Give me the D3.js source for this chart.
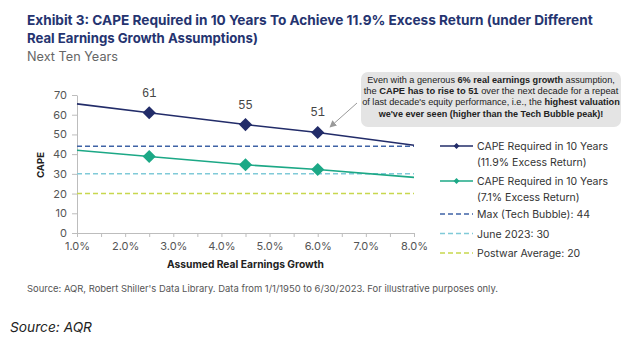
<!DOCTYPE html>
<html>
<head>
<meta charset="utf-8">
<script src="https://cdn.jsdelivr.net/npm/d3@7"></script>
<style>
  html, body { margin: 0; padding: 0; background: #fff; }
  svg { display: block; font-family: Inter, "Noto Sans", sans-serif; }
</style>
</head>
<body>
<svg id="chart" width="626" height="343"></svg>
<script>
// real earnings growth (%) and required CAPE
const growth = [1.0, 2.5, 4.5, 6.0, 8.0];
const capeHigh = [65.5, 61, 55, 51, 44.5];   // 11.9% excess return
const capeLow = [42, 38.8, 34.6, 32.2, 28.2]; // 7.1% excess return
const markerIdx = [1, 2, 3];
const highLabels = ["61", "55", "51"];

const refLevels = [
  { name: "Max (Tech Bubble): 44", value: 44, color: "#3f63a6" },
  { name: "June 2023: 30", value: 30, color: "#80cad8" },
  { name: "Postwar Average: 20", value: 20, color: "#c8d74e" }
];
const xTicks = [1, 2, 3, 4, 5, 6, 7, 8];
const yTicks = [0, 10, 20, 30, 40, 50, 60, 70];

const navy = "#222c69", green = "#1ca886";

const svg = d3.select("#chart");

// scale font-size so a text element spans the given width
function fit(sel, w) {
  const node = sel.node();
  const cur = node.getComputedTextLength();
  const fs = parseFloat(sel.attr("font-size"));
  sel.attr("font-size", (fs * w / cur).toFixed(2));
  return sel;
}

// titles
fit(svg.append("text").attr("x", 27).attr("y", 25).attr("font-size", 13)
  .attr("font-weight", 700).attr("fill", "#253470")
  .text("Exhibit 3: CAPE Required in 10 Years To Achieve 11.9% Excess Return (under Different"), 566);
fit(svg.append("text").attr("x", 27).attr("y", 43).attr("font-size", 13)
  .attr("font-weight", 700).attr("fill", "#253470")
  .text("Real Earnings Growth Assumptions)"), 231);
fit(svg.append("text").attr("x", 27).attr("y", 61).attr("font-size", 13)
  .attr("fill", "#666").text("Next Ten Years"), 91);

const x = d3.scaleLinear().domain([1, 8]).range([77, 414]);
const y = d3.scaleLinear().domain([0, 70]).range([233, 95]);

// axes
const xAxis = svg.append("g").attr("transform", `translate(0,${y(0)})`)
  .call(d3.axisBottom(x).tickValues(d3.range(1, 8.01, 0.5)).tickSize(4)
    .tickFormat(d => Number.isInteger(d) ? d.toFixed(1) + "%" : ""));
xAxis.select(".domain").attr("stroke", "#bdbdbd");
xAxis.selectAll(".tick line").attr("stroke", "#bdbdbd");
xAxis.selectAll(".tick text").attr("font-size", 11).attr("fill", "#555")
  .attr("font-family", "Inter, sans-serif").attr("dy", "0.95em");

const yAxis = svg.append("g").attr("transform", `translate(${x(1)},0)`)
  .call(d3.axisLeft(y).tickValues(yTicks).tickSize(5).tickSizeOuter(0));
yAxis.select(".domain").attr("stroke", "#bdbdbd");
yAxis.selectAll(".tick line").attr("stroke", "#bdbdbd");
yAxis.selectAll(".tick text").attr("font-size", 11).attr("fill", "#555")
  .attr("font-family", "Inter, sans-serif").attr("x", -10);

fit(svg.append("text").attr("x", x(4.5)).attr("y", 268).attr("text-anchor", "middle")
  .attr("font-size", 10.5).attr("font-weight", 700).attr("fill", "#222")
  .text("Assumed Real Earnings Growth"), 157);
fit(svg.append("text").attr("transform", "translate(44,165) rotate(-90)")
  .attr("text-anchor", "middle").attr("font-size", 11).attr("font-weight", 700)
  .attr("fill", "#222").text("CAPE"), 26);

// reference levels
svg.append("g").selectAll("line").data(refLevels).join("line")
  .attr("x1", x(1)).attr("x2", x(8))
  .attr("y1", d => y(d.value)).attr("y2", d => y(d.value))
  .attr("stroke", d => d.color).attr("stroke-width", 1.5)
  .attr("stroke-dasharray", "5,3");

// CAPE lines
const line = d3.line().x(d => x(d[0])).y(d => y(d[1]));
const series = [
  { vals: capeLow, color: green },
  { vals: capeHigh, color: navy }
];
series.forEach(s => {
  const pts = growth.map((g, i) => [g, s.vals[i]]);
  svg.append("path").datum(pts).attr("d", line)
    .attr("fill", "none").attr("stroke", s.color).attr("stroke-width", 1.6);
  svg.append("g").selectAll("path").data(markerIdx.map(i => pts[i])).join("path")
    .attr("d", d3.symbol(d3.symbolDiamond2, 110))
    .attr("transform", d => `translate(${x(d[0])},${y(d[1])})`)
    .attr("fill", s.color);
});

// value labels on the 11.9% line
svg.append("g").selectAll("text").data(markerIdx).join("text")
  .attr("x", i => x(growth[i]))
  .attr("y", i => y(capeHigh[i]) - 16)
  .attr("text-anchor", "middle").attr("font-size", 12)
  .attr("font-family", "'Liberation Mono', monospace").attr("fill", "#444")
  .text((i, k) => highLabels[k]);

// callout
svg.append("rect").attr("x", 361).attr("y", 72).attr("width", 260).attr("height", 55)
  .attr("rx", 7).attr("fill", "#e4e4e4");
const noteLines = [
  [["Even with a generous ", 0], ["6% real earnings growth", 1], [" assumption,", 0]],
  [["the ", 0], ["CAPE has to rise to 51", 1], [" over the next decade for a repeat", 0]],
  [["of last decade's equity performance, i.e., the ", 0], ["highest valuation", 1]],
  [["we've ever seen (higher than the Tech Bubble peak)!", 1]]
];
const noteWidths = [248, 255, 258, 225];
noteLines.forEach((ln, i) => {
  const t = svg.append("text").attr("x", 491).attr("y", 83 + i * 11.2)
    .attr("text-anchor", "middle").attr("font-size", 9)
    .attr("font-family", "'Liberation Sans Narrow', 'Liberation Sans', Arial, sans-serif")
    .attr("fill", "#222");
  ln.forEach(([s, b]) => t.append("tspan").attr("font-weight", b ? 700 : 400).text(s));
  fit(t, noteWidths[i]);
});
svg.append("defs").append("marker").attr("id", "arr").attr("viewBox", "0 0 10 10")
  .attr("refX", 9).attr("refY", 5).attr("markerWidth", 7).attr("markerHeight", 7)
  .attr("orient", "auto").append("path").attr("d", "M0,0L10,5L0,10z").attr("fill", "#999");
svg.append("line").attr("x1", 357).attr("y1", 103).attr("x2", 330).attr("y2", 127)
  .attr("stroke", "#999").attr("stroke-width", 1).attr("marker-end", "url(#arr)");

// legend
const lg = svg.append("g");
const lx0 = 440, lx1 = 473, tx = 477;
[[navy, 146, ["CAPE Required in 10 Years", "(11.9% Excess Return)"]],
 [green, 181, ["CAPE Required in 10 Years", "(7.1% Excess Return)"]]].forEach(([c, ly, txt]) => {
  lg.append("line").attr("x1", lx0).attr("x2", lx1).attr("y1", ly).attr("y2", ly)
    .attr("stroke", c).attr("stroke-width", 1.6);
  lg.append("path").attr("d", d3.symbol(d3.symbolDiamond2, 22))
    .attr("transform", `translate(${(lx0 + lx1) / 2},${ly})`).attr("fill", c);
  txt.forEach((s, k) => {
    const t = lg.append("text").attr("x", tx).attr("y", ly + 4 + k * 16)
      .attr("font-size", 10.5).attr("fill", "#333").text(s);
    if (k === 0) fit(t, 131);
  });
});
refLevels.forEach((d, i) => {
  const ly = 214 + i * 19.5;
  lg.append("line").attr("x1", lx0).attr("x2", lx1).attr("y1", ly).attr("y2", ly)
    .attr("stroke", d.color).attr("stroke-width", 1.5).attr("stroke-dasharray", "5,3");
  lg.append("text").attr("x", tx).attr("y", ly + 4).attr("font-size", 10.5)
    .attr("fill", "#333").text(d.name);
});

// footnotes
fit(svg.append("text").attr("x", 27).attr("y", 292).attr("font-size", 8.5).attr("fill", "#555")
  .text("Source: AQR, Robert Shiller's Data Library. Data from 1/1/1950 to 6/30/2023. For illustrative purposes only."), 472);
fit(svg.append("text").attr("x", 10).attr("y", 332).attr("font-size", 14)
  .attr("font-style", "italic").attr("fill", "#222").text("Source: AQR"), 82);
</script>
</body>
</html>
